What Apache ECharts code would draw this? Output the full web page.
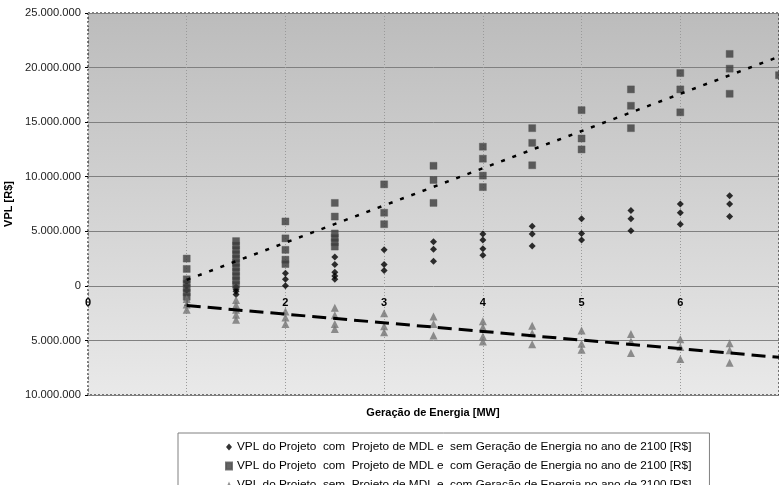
<!DOCTYPE html>
<html>
<head>
<meta charset="utf-8">
<script src="https://cdn.jsdelivr.net/npm/echarts@6/dist/echarts.min.js"></script>
<style>
  html, body { margin: 0; padding: 0; background: #fff; }
  #chart { width: 779px; height: 485px; }
</style>
</head>
<body>
<div id="chart"></div>
<script>
// valores em milhões de R$
const xPoints = [1, 1.5, 2, 2.5, 3, 3.5, 4, 4.5, 5, 5.5, 6, 6.5, 7]

const semGeracao = [
  [0.4, 0.0, -0.4],
  [-0.1, -0.3, -0.5, -0.8],
  [1.15, 0.6, 0.0],
  [2.65, 1.95, 1.25, 0.9, 0.6],
  [3.3, 1.95, 1.4],
  [4.05, 3.35, 2.25],
  [4.75, 4.2, 3.4, 2.8],
  [5.45, 4.75, 3.65],
  [6.15, 4.8, 4.2],
  [6.9, 6.15, 5.05],
  [7.5, 6.7, 5.65],
  [8.25, 7.5, 6.35],
  []
]

const comGeracao = [
  [2.5, 1.55, 0.6, 0.2, -0.2, -0.6, -1.0],
  [4.1, 3.7, 3.3, 2.9, 2.5, 2.1, 1.7, 1.3, 0.9, 0.5, 0.1],
  [5.9, 4.35, 3.3, 2.4, 2.0],
  [7.6, 6.35, 4.8, 4.4, 4.0, 3.6],
  [9.3, 6.7, 5.65],
  [11.0, 9.7, 7.6],
  [12.75, 11.65, 10.1, 9.05],
  [14.45, 13.1, 11.05],
  [16.1, 13.5, 12.5],
  [18.0, 16.5, 14.45],
  [19.5, 18.0, 15.9],
  [21.25, 19.9, 17.6],
  [19.3]
]

const semMDL = [
  [-1.2, -1.7, -2.2],
  [-1.3, -1.75, -2.2, -2.65, -3.1],
  [-2.35, -2.9, -3.5],
  [-2.0, -2.7, -3.5, -3.95],
  [-2.5, -3.7, -4.25],
  [-2.8, -3.5, -4.55],
  [-3.25, -3.8, -4.65, -5.1],
  [-3.65, -4.35, -5.35],
  [-4.1, -5.3, -5.85],
  [-4.4, -5.1, -6.15],
  [-4.9, -5.6, -6.7],
  [-5.25, -5.9, -7.05],
  []
]

// linhas de tendência (extremos)
const trendX = [1, 7]
const trendCom = [0.55, 21.0]
const trendSem = [-1.8, -6.55]

const names = [
  'VPL do Projeto  com  Projeto de MDL e  sem Geração de Energia no ano de 2100 [R$]',
  'VPL do Projeto  com  Projeto de MDL e  com Geração de Energia no ano de 2100 [R$]',
  'VPL do Projeto  sem  Projeto de MDL e  com Geração de Energia no ano de 2100 [R$]'
]

function toPoints (groups) {
  const pts = []
  groups.forEach((vals, i) => {
    vals.forEach(v => pts.push([xPoints[i], v]))
  })
  return pts
}

function fmtMoney (v) {
  const n = Math.round(Math.abs(v) * 1000000)
  return String(n).replace(/\B(?=(\d{3})+(?!\d))/g, '.')
}

const font = 'Liberation Sans'
const chart = echarts.init(document.getElementById('chart'))

const option = {
  animation: false,
  textStyle: { fontFamily: font },
  title: {
    text: 'Geração de Energia [MW]',
    left: 433,
    textAlign: 'center',
    top: 407,
    padding: 0,
    textStyle: { fontFamily: font, fontSize: 11, fontWeight: 'bold', color: '#000' }
  },
  grid: {
    left: 88,
    right: 0,
    top: 13,
    bottom: 90,
    outerBoundsMode: 'none',
    show: true,
    backgroundColor: new echarts.graphic.LinearGradient(0, 0, 0, 1, [
      { offset: 0, color: '#bcbcbc' },
      { offset: 1, color: '#e9e9e9' }
    ]),
    borderColor: '#000',
    borderWidth: 1,
    borderType: [2, 2]
  },
  legend: {
    type: 'plain',
    orient: 'vertical',
    left: 178,
    top: 433,
    height: 80,
    padding: [8, 18, 8, 47],
    itemGap: 7,
    itemWidth: 6,
    itemHeight: 7,
    backgroundColor: '#fff',
    borderColor: '#808080',
    borderWidth: 1,
    borderRadius: 0,
    textStyle: { fontFamily: font, fontSize: 11.8, color: '#000', lineHeight: 12 },
    data: [
      { name: names[0], icon: 'diamond' },
      { name: names[1], icon: 'rect' },
      { name: names[2], icon: 'triangle' }
    ]
  },
  xAxis: {
    type: 'value',
    min: 0,
    max: 7,
    interval: 1,
    axisLine: { show: false, onZero: false },
    axisTick: { show: false },
    axisLabel: {
      // rótulos desenhados logo abaixo da linha do zero
      margin: -98,
      showMaxLabel: false,
      fontFamily: font,
      fontSize: 11,
      fontWeight: 'bold',
      color: '#000'
    },
    splitLine: { show: true, lineStyle: { color: '#9a9a9a', type: [1, 2], width: 1 } }
  },
  yAxis: {
    type: 'value',
    min: -10,
    max: 25,
    interval: 5,
    name: 'VPL [R$]',
    nameLocation: 'middle',
    nameGap: 66,
    nameTextStyle: { fontFamily: font, fontSize: 11, fontWeight: 'bold', color: '#000' },
    axisLine: { show: false },
    axisTick: { show: true, inside: false, length: 3, lineStyle: { color: '#000' } },
    axisLabel: {
      margin: 7,
      fontFamily: font,
      fontSize: 11.2,
      color: '#222',
      formatter: fmtMoney
    },
    splitLine: { show: true, lineStyle: { color: '#808080', width: 1 } }
  },
  series: [
    {
      name: names[0],
      type: 'scatter',
      symbol: 'diamond',
      symbolSize: 7,
      itemStyle: { color: '#000' },
      data: toPoints(semGeracao)
    },
    {
      name: names[1],
      type: 'scatter',
      symbol: 'rect',
      symbolSize: 7,
      itemStyle: { color: '#3c3c3c', borderColor: '#555', borderWidth: 0.5 },
      data: toPoints(comGeracao)
    },
    {
      name: names[2],
      type: 'scatter',
      symbol: 'triangle',
      symbolSize: 8,
      itemStyle: { color: '#747474' },
      data: toPoints(semMDL)
    },
    {
      name: 'tendência com',
      type: 'line',
      symbol: 'none',
      silent: true,
      z: 5,
      lineStyle: { color: '#000', width: 2.5, type: [4, 8] },
      data: trendX.map((x, i) => [x, trendCom[i]])
    },
    {
      name: 'tendência sem',
      type: 'line',
      symbol: 'none',
      silent: true,
      z: 5,
      lineStyle: { color: '#000', width: 3, type: [14, 7] },
      data: trendX.map((x, i) => [x, trendSem[i]])
    }
  ]
}

chart.setOption(option)
</script>
</body>
</html>
